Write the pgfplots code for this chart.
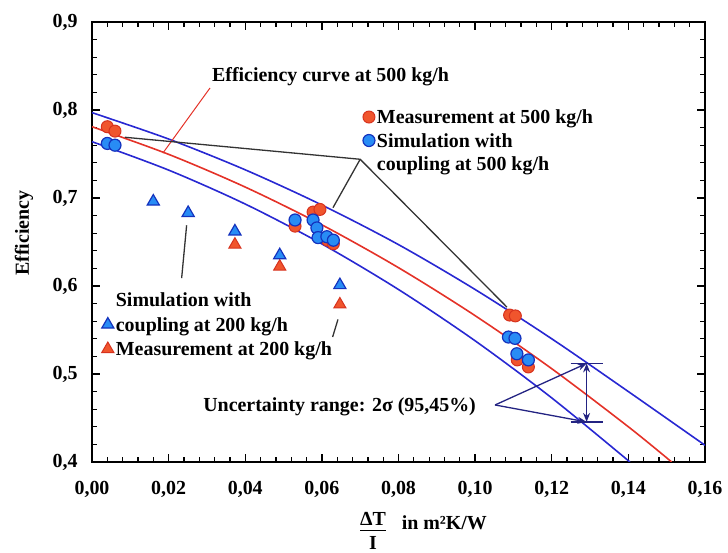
\documentclass[border=0pt]{standalone}
\usepackage{fontspec}
\setmainfont{Liberation Serif}
\usepackage{pgfplots}
\pgfplotsset{compat=1.18}
\usetikzlibrary{arrows.meta}
\definecolor{cred}{RGB}{228,50,40}
\definecolor{cblue}{RGB}{40,40,210}
\definecolor{mred}{RGB}{240,85,45}
\definecolor{mredd}{RGB}{215,50,30}
\definecolor{mblue}{RGB}{40,140,245}
\definecolor{dblue}{RGB}{20,50,190}
\definecolor{navy}{RGB}{35,35,130}
\begin{document}
\begin{tikzpicture}[font=\fontsize{20}{23}\selectfont\bfseries]
\pgfplotsset{common/.style={width=613bp,height=440bp,scale only axis,
  xmin=0,xmax=0.16,ymin=0.4,ymax=0.9}}
\begin{axis}[common, name=ax, clip mode=individual,
  xtick={0,0.02,0.04,0.06,0.08,0.10,0.12,0.14,0.16},
  ytick={0.4,0.5,0.6,0.7,0.8,0.9},
  minor x tick num=4, minor y tick num=4,
  tick pos=both, xticklabel pos=lower, yticklabel pos=left,
  tick align=inside, major tick length=8bp, minor tick length=5bp,
  axis line style={line width=1.8bp}, every tick/.style={black,line width=1.3bp},
  xticklabel style={yshift=-16bp,/pgf/number format/.cd,fixed,fixed zerofill,precision=2,use comma,assume math mode=true},
  yticklabel style={xshift=-11bp,/pgf/number format/.cd,fixed,fixed zerofill,precision=1,use comma,assume math mode=true},
  ylabel={Efficiency},
  every axis y label/.style={at={(rel axis cs:0,0.52)},xshift=-68bp,rotate=90,anchor=center},
  legend style={draw=none,fill=none,at={(rel axis cs:0.436,0.810)},anchor=north west,
    row sep=3bp, inner sep=1bp, cells={anchor=west,inner sep=1bp,text height=15bp,text depth=5bp}},
]
% curves
\addplot[cblue,line width=1.6bp,smooth,forget plot] coordinates {(0,0.797)(0.02,0.767)(0.04,0.732)(0.06,0.692)(0.08,0.647)(0.10,0.596)(0.12,0.540)(0.14,0.480)(0.16,0.419)};
\addplot[cblue,line width=1.6bp,smooth,forget plot] coordinates {(0,0.764)(0.02,0.7317)(0.04,0.6931)(0.06,0.6478)(0.08,0.596)(0.10,0.5377)(0.12,0.4728)(0.1404,0.40)};
\addplot[cred,line width=1.6bp,smooth,forget plot] coordinates {(0,0.781)(0.02,0.7496)(0.04,0.7124)(0.06,0.6695)(0.08,0.6208)(0.10,0.5663)(0.12,0.506)(0.14,0.44)(0.1513,0.40)};
% annotations
\draw[cred,line width=1bp] (axis cs:0.0308,0.825) -- (axis cs:0.0185,0.751);
\draw[black!80,line width=1.3bp] (axis cs:0.0086,0.769) -- (axis cs:0.070,0.744) -- (axis cs:0.1083,0.576);
\draw[black!80,line width=1.3bp] (axis cs:0.070,0.744) -- (axis cs:0.0629,0.689);
\draw[black!80,line width=1.3bp] (axis cs:0.0247,0.669) -- (axis cs:0.0234,0.609);
\draw[black!80,line width=1.3bp] (axis cs:0.0642,0.562) -- (axis cs:0.0628,0.542);
\node[anchor=west,inner sep=0] at (axis cs:0.0313,0.8375) {Efficiency curve at 500 kg/h};
\node[anchor=west,inner sep=0] at (axis cs:0.029,0.4625) {Uncertainty range: 2σ (95,45\%)};
\draw[navy,line width=1.3bp,-{Stealth[length=9bp,width=7bp]}] (axis cs:0.1052,0.4648) -- (axis cs:0.1291,0.512);
\draw[navy,line width=1.3bp,-{Stealth[length=9bp,width=7bp]}] (axis cs:0.1052,0.4648) -- (axis cs:0.1291,0.4455);
\draw[navy,line width=1.3bp,{Stealth[length=9bp,width=7bp]}-{Stealth[length=9bp,width=7bp]}] (axis cs:0.1291,0.4455) -- (axis cs:0.1291,0.512);
\draw[navy,line width=1.3bp] (axis cs:0.1249,0.512) -- (axis cs:0.1333,0.512);
\draw[navy,line width=1.3bp] (axis cs:0.1249,0.4455) -- (axis cs:0.1333,0.4455);
% data 500 kg/h
\addplot[only marks,mark=*,mark size=6bp,mark options={fill=mred,draw=mredd,line width=1bp},forget plot] coordinates {
(0.004,0.781)(0.006,0.776)(0.053,0.668)(0.0577,0.684)(0.0595,0.687)(0.0615,0.652)(0.063,0.648)(0.1090,0.567)(0.1105,0.566)(0.111,0.516)(0.1139,0.508)};
\addplot[only marks,mark=*,mark size=6bp,mark options={fill=mblue,draw=dblue,line width=1.2bp},forget plot] coordinates {
(0.004,0.762)(0.006,0.760)(0.053,0.675)(0.0577,0.675)(0.0587,0.666)(0.059,0.655)(0.0613,0.656)(0.063,0.652)(0.1087,0.542)(0.1104,0.5405)(0.1109,0.523)(0.1139,0.516)};
% data 200 kg/h
\addplot[only marks,mark=triangle*,mark size=7bp,mark options={fill=mred,draw=mredd,line width=1bp},forget plot] coordinates {
(0.0373,0.647)(0.049,0.622)(0.0647,0.579)};
\addplot[only marks,mark=triangle*,mark size=7bp,mark options={fill=mblue,draw=dblue,line width=1.2bp},forget plot] coordinates {
(0.016,0.696)(0.0251,0.683)(0.0373,0.662)(0.049,0.635)(0.0647,0.601)};
% legend 500
\addlegendimage{only marks,mark=*,mark size=6bp,mark options={fill=mred,draw=mredd,line width=1bp}}
\addlegendentry{Measurement at 500 kg/h}
\addlegendimage{only marks,mark=*,mark size=6bp,mark options={fill=mblue,draw=dblue,line width=1.2bp}}
\addlegendentry{Simulation with}
\addlegendimage{empty legend}
\addlegendentry{coupling at 500 kg/h}
% x label
\node[anchor=north west,inner sep=0] at ([yshift=-47bp]rel axis cs:0.437,0) {\begin{tabular}{@{}c@{}}ΔT\\[-2bp]\hline\rule{0pt}{19bp}I\end{tabular}};
\node[anchor=west,inner sep=0] at ([yshift=-61bp]rel axis cs:0.505,0) {in m²K/W};
\end{axis}
\begin{axis}[common, hide axis,
  legend style={draw=none,fill=none,at={(rel axis cs:0.010,0.394)},anchor=north west,
    row sep=4bp, inner sep=1bp, cells={anchor=west,inner sep=1bp,text height=15bp,text depth=5bp}}]
\addlegendimage{empty legend}
\addlegendentry{Simulation with}
\addlegendimage{only marks,mark=triangle*,mark size=7bp,mark options={fill=mblue,draw=dblue,line width=1.2bp}}
\addlegendentry{coupling at 200 kg/h}
\addlegendimage{only marks,mark=triangle*,mark size=7bp,mark options={fill=mred,draw=mredd,line width=1bp}}
\addlegendentry{Measurement at 200 kg/h}
\end{axis}
\pgfresetboundingbox
\path ([shift={(-92bp,-91bp)}]ax.south west) rectangle ([shift={(23bp,22bp)}]ax.north east);
\end{tikzpicture}
\end{document}
